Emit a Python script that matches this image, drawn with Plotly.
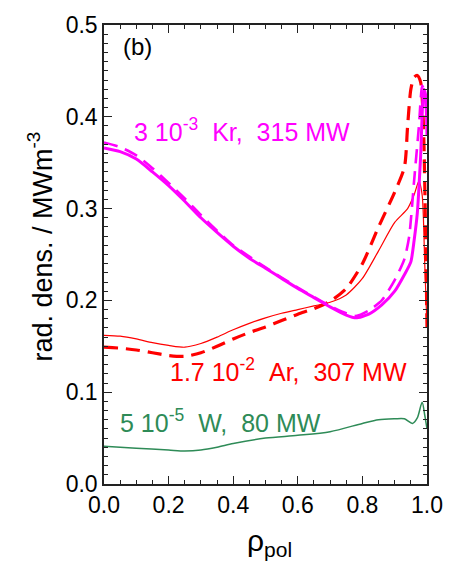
import plotly.graph_objects as go

# ---- data ----
kr_solid_x = [0, 0.05, 0.1, 0.15, 0.2, 0.25, 0.3, 0.35, 0.4, 0.45, 0.5, 0.55, 0.6, 0.65, 0.7, 0.75, 0.78,
              0.82, 0.86, 0.9, 0.93, 0.95, 0.96, 0.97, 0.98, 0.99, 0.995, 1.0]
kr_solid_y = [0.366, 0.362, 0.354, 0.340, 0.325, 0.308, 0.290, 0.274, 0.259, 0.246, 0.235, 0.224, 0.213,
              0.203, 0.193, 0.184, 0.181, 0.185, 0.195, 0.210, 0.228, 0.242, 0.265, 0.295, 0.355, 0.430,
              0.425, 0.380]

kr_dash_x = [0, 0.05, 0.1, 0.15, 0.2, 0.25, 0.3, 0.35, 0.4, 0.5, 0.6, 0.7, 0.75, 0.78, 0.82, 0.86, 0.9,
             0.93, 0.945, 0.96, 0.975, 0.985, 0.99, 1.0]
kr_dash_y = [0.372, 0.367, 0.358, 0.344, 0.328, 0.311, 0.293, 0.276, 0.260, 0.236, 0.214, 0.194, 0.186,
             0.183, 0.189, 0.200, 0.222, 0.245, 0.270, 0.330, 0.390, 0.434, 0.430, 0.400]

ar_solid_x = [0, 0.05, 0.1, 0.15, 0.2, 0.25, 0.3, 0.35, 0.4, 0.45, 0.5, 0.55, 0.6, 0.65, 0.7, 0.75, 0.8,
              0.85, 0.9, 0.94, 0.96, 0.975, 0.985, 0.993, 1.0]
ar_solid_y = [0.162, 0.161, 0.158, 0.154, 0.151, 0.149, 0.153, 0.160, 0.168, 0.175, 0.181, 0.186, 0.190,
              0.194, 0.198, 0.206, 0.224, 0.254, 0.285, 0.300, 0.315, 0.330, 0.315, 0.240, 0.171]

ar_dash_x = [0, 0.05, 0.1, 0.15, 0.2, 0.25, 0.3, 0.35, 0.4, 0.45, 0.5, 0.55, 0.6, 0.65, 0.7, 0.75, 0.8,
             0.85, 0.9, 0.93, 0.94, 0.95, 0.96, 0.97, 0.98, 0.988, 1.0]
ar_dash_y = [0.149, 0.148, 0.146, 0.143, 0.140, 0.139, 0.143, 0.150, 0.158, 0.165, 0.171, 0.178, 0.185,
             0.191, 0.199, 0.213, 0.240, 0.280, 0.318, 0.345, 0.390, 0.430, 0.443, 0.445, 0.438, 0.400,
             0.171]

w_x = [0, 0.1, 0.2, 0.25, 0.3, 0.35, 0.4, 0.5, 0.6, 0.7, 0.8, 0.85, 0.9, 0.93, 0.955, 0.97, 0.985, 0.993, 1.0]
w_y = [0.041, 0.039, 0.037, 0.036, 0.037, 0.040, 0.044, 0.050, 0.053, 0.057, 0.066, 0.070, 0.071, 0.071,
       0.066, 0.072, 0.089, 0.075, 0.060]

x_ticks = [0.0, 0.2, 0.4, 0.6, 0.8, 1.0]
y_ticks = [0.0, 0.1, 0.2, 0.3, 0.4, 0.5]

MAG = "#ff00ff"
RED = "#ff0000"
GRN = "#2e8b57"
FONT = "Liberation Sans, Arial, Helvetica, sans-serif"

fig = go.Figure()
fig.add_trace(go.Scatter(x=w_x, y=w_y, mode="lines", line=dict(color=GRN, width=1.5, shape="spline", smoothing=0.8)))
fig.add_trace(go.Scatter(x=ar_solid_x, y=ar_solid_y, mode="lines", line=dict(color=RED, width=1.2, shape="spline", smoothing=0.7)))
fig.add_trace(go.Scatter(x=ar_dash_x, y=ar_dash_y, mode="lines", line=dict(color=RED, width=3.2, dash="14px,8px", shape="spline", smoothing=0.7)))
fig.add_trace(go.Scatter(x=kr_solid_x, y=kr_solid_y, mode="lines", line=dict(color=MAG, width=3, shape="spline", smoothing=0.6)))
fig.add_trace(go.Scatter(x=kr_dash_x, y=kr_dash_y, mode="lines", line=dict(color=MAG, width=2.6, dash="14px,8px", shape="spline", smoothing=0.6)))

axis_common = dict(showgrid=False, zeroline=False, showline=True, linecolor="#222", linewidth=1.5,
                   mirror="ticks", ticks="inside", ticklen=8, tickwidth=1, tickcolor="#222",
                   tickfont=dict(family=FONT, size=23, color="black"))
fig.update_xaxes(range=[0, 1], tickvals=x_ticks, ticktext=[f"{v:.1f}" for v in x_ticks],
                 minor=dict(dtick=0.05, ticks="inside", ticklen=4, tickcolor="#222", showgrid=False),
                 **axis_common)
fig.update_yaxes(range=[0, 0.5], tickvals=y_ticks, ticktext=[f"{v:.1f}" for v in y_ticks],
                 minor=dict(dtick=0.01, ticks="inside", ticklen=4, tickcolor="#222", showgrid=False),
                 **axis_common)

NB = "\u00a0"
ann = [
    dict(x=0.052, y=0.477, text="(b)", color="black", size=24),
    dict(x=0.088, y=0.386, text=f"3 10<sup>-3</sup>{NB}{NB}Kr,{NB}{NB}315 MW", color=MAG, size=25),
    dict(x=0.199, y=0.124, text=f"1.7 10<sup>-2</sup>{NB}{NB}Ar,{NB}{NB}307 MW", color=RED, size=25),
    dict(x=0.042, y=0.069, text=f"5 10<sup>-5</sup>{NB}{NB}W,{NB}{NB}80 MW", color=GRN, size=25),
]
for a in ann:
    fig.add_annotation(x=a["x"], y=a["y"], xref="x", yref="y", text=a["text"], showarrow=False,
                       xanchor="left", yanchor="middle",
                       font=dict(family=FONT, size=a["size"], color=a["color"]))

# axis titles
fig.add_annotation(xref="paper", yref="paper", x=0, y=0.5, xshift=-64, yshift=8,
                   text="rad. dens. / MWm<sup>-3</sup>",
                   textangle=-90, showarrow=False, xanchor="center", yanchor="middle",
                   font=dict(family=FONT, size=27, color="black"))
fig.add_annotation(xref="paper", yref="paper", x=0.5, y=0, yshift=-58, xshift=4, text="\u03c1<sub>pol</sub>",
                   showarrow=False, xanchor="center", yanchor="middle",
                   font=dict(family=FONT, size=30, color="black"))

fig.update_layout(width=455, height=562, margin=dict(l=104, r=20, t=13, b=78),
                  paper_bgcolor="white", plot_bgcolor="white", showlegend=False)
fig.write_html("out.html")
